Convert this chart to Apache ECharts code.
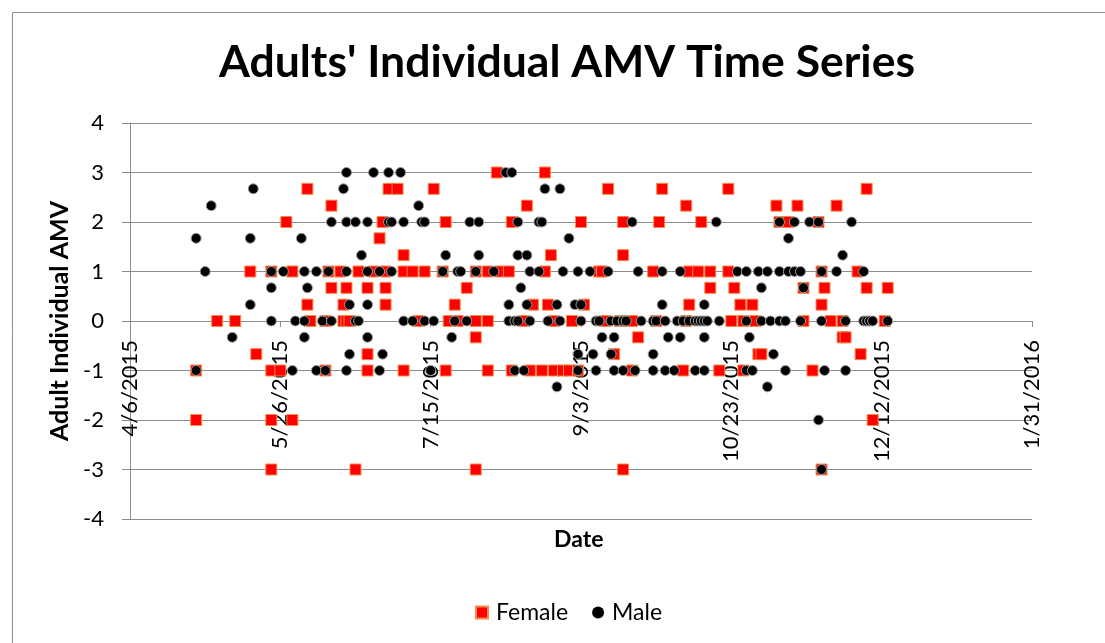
<!DOCTYPE html>
<html>
<head>
<meta charset="utf-8">
<title>Adults' Individual AMV Time Series</title>
<script src="https://cdn.jsdelivr.net/npm/echarts@6/dist/echarts.min.js"></script>
<style>
  html, body { margin: 0; padding: 0; background: #fff; }
  #chart { width: 1105px; height: 643px; }
</style>
</head>
<body>
<div id="chart"></div>
<script>
// female AMV readings: [date, value]
const femaleData = [
  ['2015-04-28', -1], ['2015-04-28', -2], ['2015-05-05', 0], ['2015-05-11', 0],
  ['2015-05-16', 1], ['2015-05-18', -0.67], ['2015-05-23', 1], ['2015-05-23', -1],
  ['2015-05-23', -2], ['2015-05-23', -3], ['2015-05-26', -1], ['2015-05-28', 2],
  ['2015-05-30', 1], ['2015-05-30', -2], ['2015-06-04', 2.67], ['2015-06-04', 0.33],
  ['2015-06-05', 0], ['2015-06-10', 0], ['2015-06-10', -1], ['2015-06-11', 1],
  ['2015-06-12', 2.33], ['2015-06-12', 0.67], ['2015-06-15', 1], ['2015-06-16', 0.33],
  ['2015-06-16', 0], ['2015-06-17', 0.67], ['2015-06-17', 0], ['2015-06-18', 0],
  ['2015-06-20', -3], ['2015-06-21', 1], ['2015-06-24', 0.67], ['2015-06-24', -0.67],
  ['2015-06-24', -1], ['2015-06-26', 1], ['2015-06-28', 1.67], ['2015-06-29', 2],
  ['2015-06-30', 1], ['2015-06-30', 0.67], ['2015-06-30', 0.33], ['2015-07-01', 2.67],
  ['2015-07-04', 2.67], ['2015-07-06', 1.33], ['2015-07-06', 1], ['2015-07-06', -1],
  ['2015-07-09', 1], ['2015-07-11', 0], ['2015-07-13', 1], ['2015-07-16', 2.67],
  ['2015-07-19', 1], ['2015-07-20', 2], ['2015-07-20', -1], ['2015-07-21', 0],
  ['2015-07-23', 0.33], ['2015-07-24', 0], ['2015-07-27', 0.67], ['2015-07-30', 1],
  ['2015-07-30', 0], ['2015-07-30', -0.33], ['2015-07-30', -3], ['2015-08-03', 1],
  ['2015-08-03', 0], ['2015-08-03', -1], ['2015-08-06', 3], ['2015-08-07', 1],
  ['2015-08-10', 1], ['2015-08-11', 2], ['2015-08-11', -1], ['2015-08-15', 0],
  ['2015-08-16', 2.33], ['2015-08-17', -1], ['2015-08-18', 0.33], ['2015-08-21', -1],
  ['2015-08-22', 3], ['2015-08-22', 1], ['2015-08-23', 0.33], ['2015-08-24', 1.33],
  ['2015-08-25', 0], ['2015-08-25', -1], ['2015-08-28', -1], ['2015-08-30', -1],
  ['2015-08-31', 0], ['2015-09-02', -1], ['2015-09-03', 2], ['2015-09-04', 0.33],
  ['2015-09-09', 1], ['2015-09-10', 1], ['2015-09-11', 0], ['2015-09-12', 2.67],
  ['2015-09-14', -0.67], ['2015-09-16', 0], ['2015-09-17', 2], ['2015-09-17', 1.33],
  ['2015-09-17', -3], ['2015-09-20', 0], ['2015-09-20', -1], ['2015-09-22', -0.33],
  ['2015-09-27', 1], ['2015-09-28', 0], ['2015-09-29', 2], ['2015-09-30', 2.67],
  ['2015-10-07', -1], ['2015-10-08', 2.33], ['2015-10-08', 0], ['2015-10-09', 1],
  ['2015-10-09', 0.33], ['2015-10-12', 1], ['2015-10-13', 2], ['2015-10-16', 1],
  ['2015-10-16', 0.67], ['2015-10-19', -1], ['2015-10-22', 2.67], ['2015-10-22', 1],
  ['2015-10-23', 0], ['2015-10-24', 0.67], ['2015-10-26', 0.33], ['2015-10-27', 0],
  ['2015-10-27', -1], ['2015-10-30', 0.33], ['2015-10-31', 0], ['2015-11-01', -0.67],
  ['2015-11-02', -0.67], ['2015-11-07', 2.33], ['2015-11-08', 2], ['2015-11-11', 2],
  ['2015-11-14', 2.33], ['2015-11-16', 0.67], ['2015-11-16', 0], ['2015-11-19', -1],
  ['2015-11-21', 2], ['2015-11-22', 1], ['2015-11-22', 0.33], ['2015-11-22', -3],
  ['2015-11-23', 0.67], ['2015-11-25', 0], ['2015-11-27', 2.33], ['2015-11-29', 0],
  ['2015-11-29', -0.33], ['2015-11-30', -0.33], ['2015-12-04', 1], ['2015-12-05', -0.67],
  ['2015-12-07', 2.67], ['2015-12-07', 0.67], ['2015-12-09', -2], ['2015-12-13', 0],
  ['2015-12-14', 0.67]
];

// male AMV readings: [date, value]
const maleData = [
  ['2015-04-28', 1.67], ['2015-04-28', -1], ['2015-05-01', 1], ['2015-05-03', 2.33],
  ['2015-05-10', -0.33], ['2015-05-16', 1.67], ['2015-05-16', 0.33], ['2015-05-17', 2.67],
  ['2015-05-23', 1], ['2015-05-23', 0.67], ['2015-05-23', 0], ['2015-05-27', 1],
  ['2015-05-30', -1], ['2015-05-31', 0], ['2015-06-02', 1.67], ['2015-06-03', 1],
  ['2015-06-03', 0], ['2015-06-03', -0.33], ['2015-06-04', 0.67], ['2015-06-07', 1],
  ['2015-06-07', -1], ['2015-06-09', 0], ['2015-06-10', -1], ['2015-06-11', 1],
  ['2015-06-12', 2], ['2015-06-12', 0], ['2015-06-16', 2.67], ['2015-06-17', 3],
  ['2015-06-17', 2], ['2015-06-17', 1], ['2015-06-17', -1], ['2015-06-18', 0.33],
  ['2015-06-18', -0.67], ['2015-06-20', 2], ['2015-06-20', 0], ['2015-06-21', 0],
  ['2015-06-22', 1.33], ['2015-06-24', 2], ['2015-06-24', 1], ['2015-06-24', 0.33],
  ['2015-06-24', -0.33], ['2015-06-26', 3], ['2015-06-28', 1], ['2015-06-28', -1],
  ['2015-06-29', -0.67], ['2015-07-01', 3], ['2015-07-01', 2], ['2015-07-02', 2],
  ['2015-07-02', 1], ['2015-07-05', 3], ['2015-07-06', 2], ['2015-07-06', 0],
  ['2015-07-09', 0], ['2015-07-11', 2.33], ['2015-07-12', 2], ['2015-07-13', 2],
  ['2015-07-13', 0], ['2015-07-15', -1], ['2015-07-16', 0], ['2015-07-19', 1],
  ['2015-07-20', 1.33], ['2015-07-22', -0.33], ['2015-07-23', 0], ['2015-07-24', 1],
  ['2015-07-25', 1], ['2015-07-27', 0], ['2015-07-28', 2], ['2015-07-30', 1],
  ['2015-07-31', 2], ['2015-07-31', 1.33], ['2015-08-05', 1], ['2015-08-09', 3],
  ['2015-08-10', 0.33], ['2015-08-10', 0], ['2015-08-11', 3], ['2015-08-12', 0],
  ['2015-08-12', -1], ['2015-08-13', 2], ['2015-08-13', 1.33], ['2015-08-13', 0],
  ['2015-08-14', 0.67], ['2015-08-15', -1], ['2015-08-16', 1.33], ['2015-08-16', 0.33],
  ['2015-08-17', 1], ['2015-08-17', 0], ['2015-08-20', 2], ['2015-08-20', 1],
  ['2015-08-21', 2], ['2015-08-22', 2.67], ['2015-08-23', 0], ['2015-08-26', 0.33],
  ['2015-08-26', -1.33], ['2015-08-27', 2.67], ['2015-08-27', 0], ['2015-08-28', 1],
  ['2015-08-30', 1.67], ['2015-09-01', 0.33], ['2015-09-02', 1], ['2015-09-02', -0.67],
  ['2015-09-02', -1], ['2015-09-03', 0.33], ['2015-09-03', 0], ['2015-09-06', 1],
  ['2015-09-07', -0.67], ['2015-09-08', 0], ['2015-09-08', -1], ['2015-09-09', 0],
  ['2015-09-10', -0.33], ['2015-09-12', 1], ['2015-09-13', 0], ['2015-09-13', -0.67],
  ['2015-09-14', -0.33], ['2015-09-14', -1], ['2015-09-15', 0], ['2015-09-17', 0],
  ['2015-09-17', -1], ['2015-09-18', 0], ['2015-09-20', 2], ['2015-09-21', -1],
  ['2015-09-22', 1], ['2015-09-23', 0], ['2015-09-27', 0], ['2015-09-27', -0.67],
  ['2015-09-27', -1], ['2015-09-28', 0], ['2015-09-30', 1], ['2015-09-30', 0.33],
  ['2015-10-01', 0], ['2015-10-01', -1], ['2015-10-02', -0.33], ['2015-10-04', -1],
  ['2015-10-05', 0], ['2015-10-06', 1], ['2015-10-06', -0.33], ['2015-10-07', 0],
  ['2015-10-09', 0], ['2015-10-11', 0], ['2015-10-11', -1], ['2015-10-12', 0],
  ['2015-10-13', 0], ['2015-10-14', 0.33], ['2015-10-14', 0], ['2015-10-14', -0.33],
  ['2015-10-14', -1], ['2015-10-15', 0], ['2015-10-18', 2], ['2015-10-19', 0],
  ['2015-10-25', 1], ['2015-10-28', 1], ['2015-10-28', 0], ['2015-10-28', -1],
  ['2015-10-29', -0.33], ['2015-10-30', -1], ['2015-11-01', 1], ['2015-11-02', 0.67],
  ['2015-11-02', 0], ['2015-11-04', 1], ['2015-11-04', -1.33], ['2015-11-05', 0],
  ['2015-11-06', -0.67], ['2015-11-08', 2], ['2015-11-08', 1], ['2015-11-08', 0],
  ['2015-11-10', 0], ['2015-11-10', -1], ['2015-11-11', 1.67], ['2015-11-11', 1],
  ['2015-11-13', 2], ['2015-11-13', 1], ['2015-11-15', 1], ['2015-11-15', 0],
  ['2015-11-16', 0.67], ['2015-11-18', 2], ['2015-11-21', 2], ['2015-11-21', -2],
  ['2015-11-22', 1], ['2015-11-22', 0], ['2015-11-22', -3], ['2015-11-23', -1],
  ['2015-11-27', 1], ['2015-11-29', 1.33], ['2015-11-30', 0], ['2015-11-30', -1],
  ['2015-12-02', 2], ['2015-12-06', 1], ['2015-12-06', 0], ['2015-12-07', 0],
  ['2015-12-08', 0], ['2015-12-09', 0], ['2015-12-14', 0]
];

const xMin = '2015-04-06';
const xMax = '2016-01-31';
const xStepDays = 50;
const yMin = -4;
const yMax = 4;

const DAY = 86400000;

function toPoints(list) {
  return list.map(function (d) { return [Date.parse(d[0]), d[1]]; });
}

function fmtDate(v) {
  const d = new Date(v);
  return (d.getUTCMonth() + 1) + '/' + d.getUTCDate() + '/' + d.getUTCFullYear();
}

const chart = echarts.init(document.getElementById('chart'), null, { renderer: 'canvas' });
const font = 'Lato, "Open Sans", sans-serif';

const option = {
  animation: false,
  backgroundColor: '#fff',
  textStyle: { fontFamily: font },
  title: {
    text: "Adults' Individual AMV Time Series",
    left: 214,
    top: 35,
    textStyle: { fontSize: 44.5, fontWeight: 'bold', color: '#000', fontFamily: font }
  },
  legend: {
    top: 596,
    left: 470,
    itemGap: 24,
    itemWidth: 12,
    itemHeight: 12,
    textStyle: { fontSize: 23, color: '#000', fontFamily: font, padding: [0, 0, 0, 3] },
    data: [
      { name: 'Female', icon: 'rect' },
      { name: 'Male', icon: 'circle', itemStyle: { borderWidth: 0 } }
    ]
  },
  grid: { left: 130, right: 73, top: 123, bottom: 124 },
  xAxis: {
    type: 'value',
    min: Date.parse(xMin),
    max: Date.parse(xMax),
    interval: xStepDays * DAY,
    // the date axis sits on the y = 0 line
    offset: -198,
    axisLine: { onZero: false, lineStyle: { color: '#8c8c8c', width: 1 } },
    axisTick: { show: true, length: 6, lineStyle: { color: '#8c8c8c' } },
    axisLabel: {
      rotate: 90,
      margin: 19,
      fontSize: 22,
      color: '#000',
      fontFamily: font,
      formatter: fmtDate
    },
    splitLine: { show: false }
  },
  yAxis: {
    type: 'value',
    min: yMin,
    max: yMax,
    interval: 1,
    name: 'Adult Individual AMV',
    nameLocation: 'middle',
    nameGap: 56,
    nameTextStyle: { fontSize: 25, fontWeight: 'bold', color: '#000', fontFamily: font },
    axisLine: { show: true, onZero: false, lineStyle: { color: '#8c8c8c', width: 1 } },
    axisTick: { show: true, length: 8, lineStyle: { color: '#8c8c8c' } },
    axisLabel: { margin: 26, fontSize: 22, color: '#000', fontFamily: font },
    splitLine: { show: true, lineStyle: { color: '#8c8c8c', width: 1 } }
  },
  graphic: [
    {
      type: 'rect',
      left: 10, top: 10,
      shape: { width: 1200, height: 800 },
      style: { fill: 'none', stroke: '#8c8c8c', lineWidth: 1 },
      silent: true
    },
    {
      type: 'text',
      left: 554, top: 528,
      style: { text: 'Date', fontSize: 23, fontWeight: 'bold', fill: '#000', fontFamily: font },
      silent: true
    }
  ],
  series: [
    {
      name: 'Female',
      type: 'scatter',
      symbol: 'rect',
      symbolSize: 11,
      itemStyle: { color: '#ff0000', borderColor: '#f58b4c', borderWidth: 1, opacity: 1 },
      data: toPoints(femaleData)
    },
    {
      name: 'Male',
      type: 'scatter',
      symbol: 'circle',
      symbolSize: 10,
      itemStyle: { color: '#000000', borderColor: '#a0a0a0', borderWidth: 1, opacity: 1 },
      data: toPoints(maleData)
    }
  ]
};

chart.setOption(option);
</script>
</body>
</html>
